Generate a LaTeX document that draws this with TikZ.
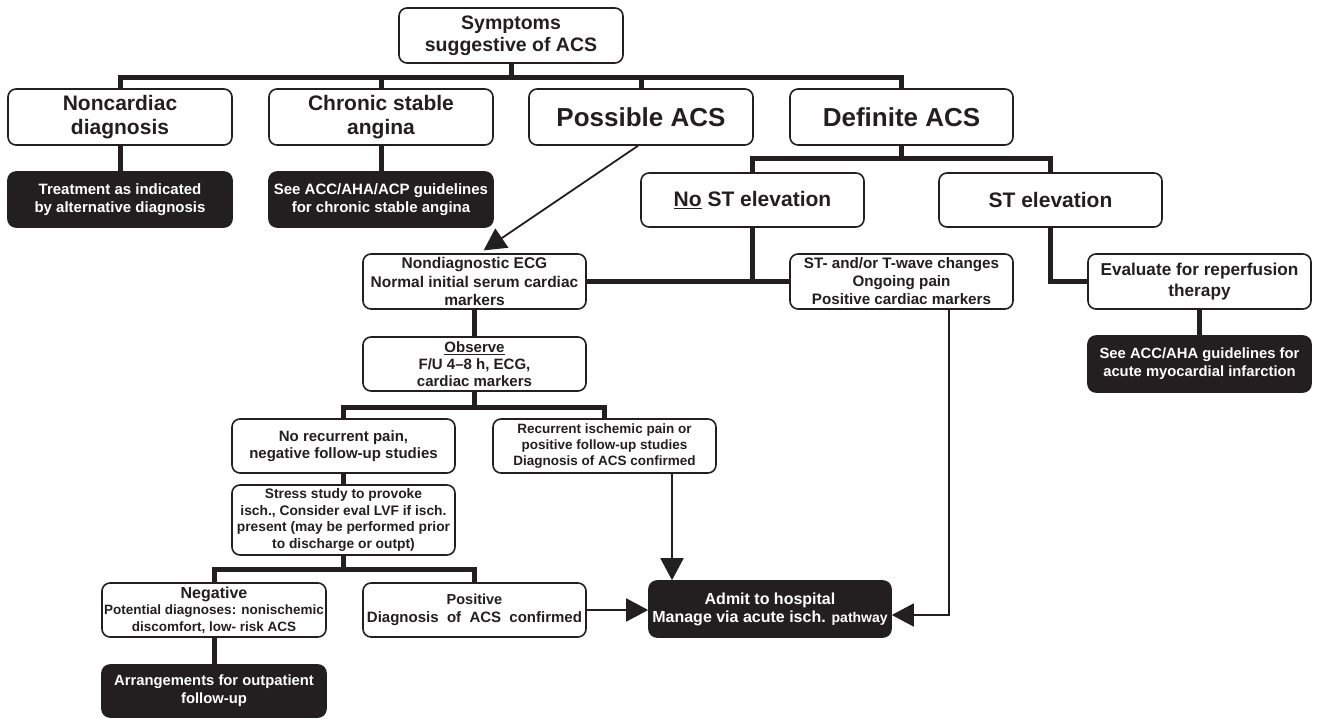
\documentclass[tikz,border=0pt]{standalone}
\usepackage{fontspec}
\setmainfont{Liberation Sans}
\usetikzlibrary{arrows.meta,calc}
\definecolor{ink}{RGB}{35,31,32}
\newcommand{\setfs}[2]{\fontsize{#1}{#2}\selectfont}
\tikzset{
  box/.style={draw=ink, line width=1.6pt, rounded corners=8pt, fill=white,
    text=ink, align=center, inner sep=0pt},
  dark/.style={box, fill=ink, text=white},
  sz/.style 2 args={font=\bfseries\fontsize{#1}{#2}\selectfont},
  dim/.style 2 args={minimum width=#1pt, minimum height=#2pt},
  bus/.style={draw=ink, line width=5pt, line join=miter},
  flow/.style={draw=ink, line width=1.8pt, -{Triangle[length=22pt,width=23pt]}},
}
\begin{document}
\begin{tikzpicture}[x=1pt,y=1pt]
\useasboundingbox (0,0) rectangle (1317,718);
\fill[white] (0,0) rectangle (1317,718);

% top level
\node[box, dim={224}{55}, sz={19.5}{22}] (sym) at (511,682.5) {Symptoms\\suggestive of ACS};
\node[box, dim={224}{56}, sz={21}{24}] (nonc) at (120,601) {Noncardiac\\diagnosis};
\node[box, dim={224}{56}, sz={21}{24}] (chron) at (381,601) {Chronic stable\\angina};
\node[box, dim={224}{56}, sz={26}{28}] (poss) at (641,601) {Possible ACS};
\node[box, dim={223}{56}, sz={26}{28}] (defi) at (901.5,601) {Definite ACS};

\node[dark, dim={224}{55}, sz={15}{18}] (tr) at (120,518.5) {Treatment as indicated\\by alternative diagnosis};
\node[dark, dim={224}{55}, sz={15}{18}] (see1) at (381,518.5) {See ACC/AHA/ACP guidelines\\for chronic stable angina};

% definite ACS branch
\node[box, dim={223}{54}, sz={21}{24}] (nost) at (752.5,518) {\underline{No} ST elevation};
\node[box, dim={223}{54}, sz={21}{24}] (stel) at (1050.5,518) {ST elevation};

\node[box, dim={223}{55}, sz={15.5}{18.5}] (nond) at (474.5,436.5) {Nondiagnostic ECG\\Normal initial serum cardiac\\markers};
\node[box, dim={223}{55}, sz={15.2}{18}] (stt) at (901.5,436.5) {ST- and/or T-wave changes\\Ongoing pain\\Positive cardiac markers};
\node[box, dim={223}{55}, sz={17.2}{21}] (eval) at (1199.5,436.5) {Evaluate for reperfusion\\therapy};
\node[dark, dim={223}{56}, sz={14.8}{18}] (see2) at (1199.5,364-10) {See ACC/AHA guidelines for\\acute myocardial infarction};

% observation pathway
\node[box, dim={223}{54}, sz={15}{17}] (obs) at (474.5,354) {\underline{Observe}\\F/U 4--8 h, ECG,\\cardiac markers};
\node[box, dim={223}{54}, sz={15}{17.5}] (norec) at (343.5,272) {No recurrent pain,\\negative follow-up studies};
\node[box, dim={223}{54}, sz={13.5}{16}] (recur) at (604.5,272) {Recurrent ischemic pain or\\positive follow-up studies\\Diagnosis of ACS confirmed};
\node[box, dim={223}{70}, sz={13.8}{16.7}] (stress) at (343.5,198) {Stress study to provoke\\isch., Consider eval LVF if isch.\\present (may be performed prior\\to discharge or outpt)};
\node[box, dim={224}{54}, sz={13.5}{16.5}] (neg) at (214,108) {{\setfs{16}{18}Negative}\\Potential diagnoses: nonischemic\\discomfort, low- risk ACS};
\node[box, dim={223}{54}, sz={15}{18}] (pos) at (474.5,108) {{\setfs{14.5}{17}Positive}\\Diagnosis \ of \ ACS \ confirmed};
\node[dark, dim={242}{56}, sz={16}{18}] (admit) at (770,109) {Admit to hospital\\Manage via acute isch. {\setfs{14}{18}pathway}};
\node[dark, dim={224}{52}, sz={14.8}{18}] (arr) at (214,27) {Arrangements for outpatient\\follow-up};

% thick tree connectors
\draw[bus] (sym.south) -- ++(0,-14) coordinate (t1);
\draw[bus] (nonc.north) |- (t1) -| (defi.north);
\draw[bus] (chron.north) -- (chron.north |- t1);
\draw[bus] (poss.north) -- (poss.north |- t1);
\draw[bus] (nonc.south) -- (tr.north);
\draw[bus] (chron.south) -- (see1.north);

\draw[bus] (defi.south) -- ++(0,-13) coordinate (d1);
\draw[bus] (nost.north) |- (d1) -| (stel.north);
\draw[bus] (nond.east) -- (stt.west);
\draw[bus] (nost.south) -- (nost.south |- nond.east);
\draw[bus] (stel.south) |- (eval.west);
\draw[bus] (eval.south) -- (see2.north);

\draw[bus] (nond.south) -- (obs.north);
\draw[bus] (obs.south) -- ++(0,-16) coordinate (o1);
\draw[bus] (norec.north) |- (o1) -| (recur.north);
\draw[bus] (norec.south) -- (stress.north);
\draw[bus] (stress.south) -- ++(0,-14) coordinate (s1);
\draw[bus] (neg.north) |- (s1) -| (pos.north);
\draw[bus] (neg.south) -- (arr.north);

% arrows
\draw[flow, shorten >=5pt] ($(poss.south)+(-3,0)$) -- ($(nond.north)+(5,0)$);
\draw[flow] ($(recur.south)+(67.5,0)$) coordinate (r1) -- (r1 |- admit.north);
\draw[flow] (pos.east) -- (pos.east -| admit.west);
\draw[flow] ($(stt.south)+(47.5,0)$) |- ($(admit.east)+(0,-6)$);
\end{tikzpicture}
\end{document}
